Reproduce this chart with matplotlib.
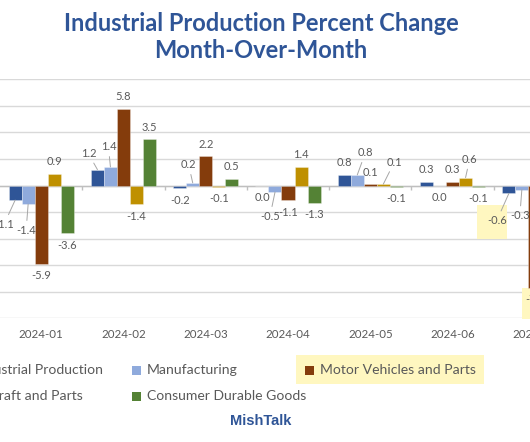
import numpy as np
import matplotlib
matplotlib.use("Agg")
import matplotlib.pyplot as plt
from matplotlib.patches import Rectangle

plt.rcParams['font.family'] = ['Lato', 'DejaVu Sans']

months = ["2024-01", "2024-02", "2024-03", "2024-04", "2024-05", "2024-06", "2024-07"]
series_names = ["Industrial Production", "Manufacturing", "Motor Vehicles and Parts",
                "Aircraft and Parts", "Consumer Durable Goods"]
industrial = [-1.1, 1.2, -0.2, 0.0, 0.8, 0.3, -0.6]
manufacturing = [-1.4, 1.4, 0.2, -0.5, 0.8, 0.0, -0.3]
motor_vehicles = [-5.9, 5.8, 2.2, -1.1, 0.1, 0.3, -7.7]
aircraft = [0.9, -1.4, -0.1, 1.4, 0.1, 0.6, np.nan]          # july cut off in the picture
consumer_durables = [-3.6, 3.5, 0.5, -1.3, -0.1, -0.1, np.nan]
colors = ["#2F5597", "#8FAADC", "#843C0C", "#BF9000", "#548235"]

all_series = [industrial, manufacturing, motor_vehicles, aircraft, consumer_durables]

# data labels that were dragged away from the bar end (pixel offsets), drawn with leader lines
moved = {
    (0, 0): (-11, -24), (1, 0): (-2, -26),
    (0, 1): (-9, 16), (1, 1): (-2, 20),
    (1, 2): (-4, 18),
    (1, 3): (-5, -24),
    (1, 4): (8, 22), (3, 4): (11, 22),
    (3, 5): (4, 18),
    (0, 6): (-12, -27), (1, 6): (-2, -26),
}

W, H = 530, 442
fig = plt.figure(figsize=(W / 100, H / 100), dpi=100)

def fx(x):
    return x / W

def fy(y):
    return 1 - y / H

ax = fig.add_axes([0, fy(318.3), 576 / W, (318.3 - 79.3) / H])
ax.set_xlim(-0.5, 6.5)
ax.set_ylim(-10, 8)
ax.set_axisbelow(True)

grey_txt = "#595959"
grid_c = "#D9D9D9"
hl = "#FFF7C0"

bw = 0.158
x = np.arange(len(months))
for k, vals in enumerate(all_series):
    xs = x + (k - 2) * bw
    ax.bar(xs, vals, width=bw, color=colors[k], edgecolor=(1, 1, 1, 0.35),
           linewidth=0.6, zorder=2, label=series_names[k])
    for i, v in enumerate(vals):
        if np.isnan(v):
            continue
        if (k, i) in moved:
            ax.annotate(f"{v:.1f}", xy=(xs[i], v), xytext=moved[(k, i)],
                        textcoords="offset pixels", ha="center", va="center",
                        fontsize=8, color=grey_txt, zorder=4,
                        arrowprops=dict(arrowstyle="-", color="#A6A6A6", lw=0.7,
                                        shrinkA=1, shrinkB=0))
        else:
            dy = 12 if v > 0 else -12
            ax.annotate(f"{v:.1f}", xy=(xs[i], v), xytext=(0, dy),
                        textcoords="offset pixels", ha="center", va="center",
                        fontsize=8, color=grey_txt, zorder=4)

ax.set_yticks(np.arange(-10, 9, 2))
ax.yaxis.grid(True, color=grid_c, lw=1)
ax.tick_params(axis="y", length=0, labelleft=False)
ax.set_xticks(x)
ax.set_xticklabels(months)
ax.tick_params(axis="x", length=0, pad=8, labelsize=8.3, labelcolor=grey_txt)
for s in ax.spines.values():
    s.set_visible(False)
ax.axhline(0, color="#BFBFBF", lw=1, zorder=1)
ax.vlines(x[:-1] + 0.5, 0, -0.3, color="#BFBFBF", lw=1, zorder=1)

# yellow highlight boxes
for (x0, y0, x1, y1) in [(477, 205, 507, 239), (521.5, 288, 553, 319)]:
    ax.add_patch(Rectangle((fx(x0), fy(y1)), fx(x1 - x0), (y1 - y0) / H,
                           transform=fig.transFigure, facecolor=hl, edgecolor="none",
                           zorder=1.5, clip_on=False))
fig.patches.append(Rectangle((fx(296), fy(384)), fx(484 - 296), (384 - 355) / H,
                             transform=fig.transFigure, facecolor=hl, edgecolor="none",
                             zorder=0))

# title
fig.text(fx(261), fy(37), "Industrial Production Percent Change\nMonth-Over-Month",
         ha="center", va="center", fontsize=17, fontweight="bold",
         color="#2F5597", linespacing=1.22)

# legend, laid out like the excel one (equal column widths)
col_x = [-41, 132, 305]
row_y = [370, 396]
slots = [(0, 0), (0, 1), (0, 2), (1, 0), (1, 1)]
for k, (r, c) in enumerate(slots):
    mx, my = col_x[c], row_y[r]
    fig.patches.append(Rectangle((fx(mx), fy(my + 4.5)), fx(9), 9 / H,
                                 transform=fig.transFigure, facecolor=colors[k],
                                 edgecolor="none", zorder=1))
    fig.text(fx(mx + 15), fy(my), series_names[k], ha="left", va="center",
             fontsize=10.1, color=grey_txt)

fig.text(fx(261), fy(421), "MishTalk", ha="center", va="center", fontsize=10.5,
         fontweight="bold", color="#2F5597", family=["Liberation Sans", "DejaVu Sans"])

fig.savefig("out.png", dpi=100)
